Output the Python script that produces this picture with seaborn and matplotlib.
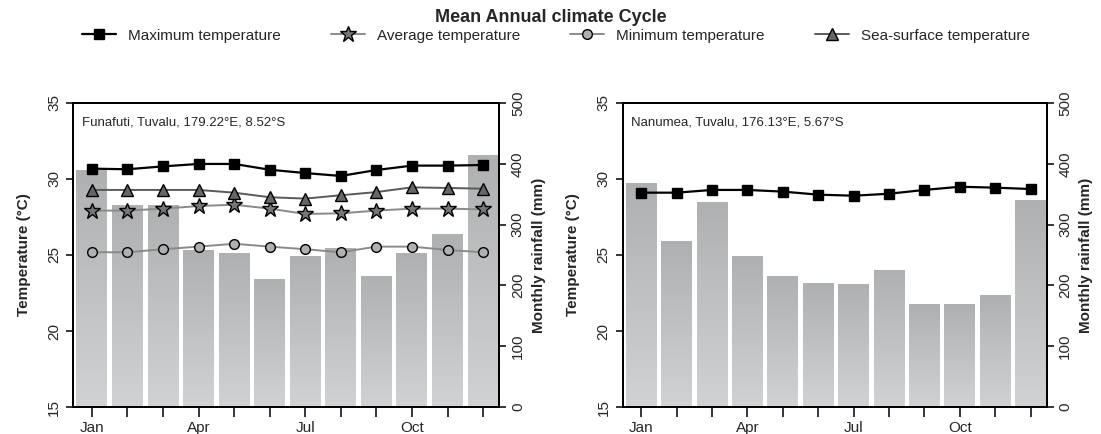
"""Mean annual climate cycle for two Tuvalu stations."""

import matplotlib
matplotlib.use("Agg")
import matplotlib.pyplot as plt
from matplotlib.colors import LinearSegmentedColormap
import numpy as np
import pandas as pd
import seaborn as sns

months = ["Jan", "Feb", "Mar", "Apr", "May", "Jun",
          "Jul", "Aug", "Sep", "Oct", "Nov", "Dec"]
month_labels = ["Jan", "", "", "Apr", "", "", "Jul", "", "", "Oct", "", ""]

# Funafuti
funafuti_rain = [389, 332, 332, 258, 252, 210, 248, 261, 215, 252, 283, 414]
funafuti_tmax = [30.68, 30.64, 30.83, 30.99, 30.99, 30.61, 30.39, 30.20, 30.59, 30.88, 30.88, 30.92]
funafuti_tavg = [27.92, 27.92, 28.05, 28.22, 28.31, 28.05, 27.70, 27.74, 27.92, 28.05, 28.05, 28.00]
funafuti_tmin = [25.18, 25.18, 25.38, 25.55, 25.74, 25.55, 25.38, 25.18, 25.55, 25.55, 25.33, 25.18]
funafuti_sst = [29.28, 29.28, 29.28, 29.28, 29.10, 28.80, 28.71, 28.93, 29.14, 29.45, 29.41, 29.36]

# Nanumea
nanumea_rain = [368, 273, 336, 248, 214, 203, 201, 225, 169, 169, 183, 340]
nanumea_tmax = [29.10, 29.10, 29.28, 29.28, 29.17, 28.97, 28.90, 29.03, 29.28, 29.49, 29.43, 29.34]

SERIES_STYLE = {
    "Maximum temperature": dict(color="black", marker="s", markersize=6.5,
                                markerfacecolor="black", lw=1.6, zorder=6),
    "Average temperature": dict(color="#8a8a8a", marker="*", markersize=12,
                                markerfacecolor="#777777", lw=1.4, zorder=4),
    "Minimum temperature": dict(color="#8a8a8a", marker="o", markersize=7,
                                markerfacecolor="#b0b0b0", lw=1.4, zorder=4),
    "Sea-surface temperature": dict(color="#5a5a5a", marker="^", markersize=8,
                                    markerfacecolor="#666666", lw=1.4, zorder=5),
}

sns.set_style("ticks")
plt.rcParams["font.family"] = ["Liberation Sans", "DejaVu Sans"]
plt.rcParams["axes.linewidth"] = 1.4

bar_cmap = LinearSegmentedColormap.from_list("bar", ["#d1d2d4", "#afb0b2"])


def shade_bars(ax):
    """Replace flat bar fills with a vertical grey gradient."""
    grad = np.linspace(0, 1, 256).reshape(-1, 1)
    for p in ax.patches:
        x0, w, h = p.get_x(), p.get_width(), p.get_height()
        p.set_facecolor("none")
        p.set_edgecolor("none")
        ax.imshow(grad, extent=[x0, x0 + w, 0, h], origin="lower",
                  cmap=bar_cmap, aspect="auto", zorder=1)


def draw_panel(fig, rect, station, rain, temps):
    ax = fig.add_axes(rect)
    axt = ax.twinx()

    # rainfall bars on the base axes, scale on the right
    df = pd.DataFrame({"month": months, "rain": rain})
    sns.barplot(data=df, x="month", y="rain", ax=ax, width=0.87,
                color="#bebfc1", saturation=1, errorbar=None)
    shade_bars(ax)
    ax.set_xlim(-0.53, 11.45)
    ax.set_ylim(0, 500)
    ax.set_yticks(range(0, 501, 100))
    ax.set_xlabel("")
    ax.set_xticks(range(12))
    ax.set_xticklabels(month_labels, fontsize=11)
    ax.tick_params(axis="x", length=7, width=1.3, pad=3)

    # temperature lines on the twin, scale on the left
    x = np.arange(12)
    for name, vals in temps.items():
        sns.lineplot(x=x, y=vals, ax=axt, markeredgecolor="black",
                     markeredgewidth=1.0, **SERIES_STYLE[name])
    axt.set_ylim(15, 35)
    axt.set_xlim(-0.53, 11.45)
    axt.set_yticks([15, 20, 25, 30, 35])

    ax.yaxis.tick_right()
    ax.yaxis.set_label_position("right")
    axt.yaxis.tick_left()
    axt.yaxis.set_label_position("left")
    ax.set_ylabel("Monthly rainfall (mm)", fontsize=11, fontweight="bold", labelpad=5)
    axt.set_ylabel("Temperature (°C)", fontsize=11, fontweight="bold", labelpad=12)
    for a in (ax, axt):
        a.tick_params(axis="y", labelrotation=90, labelsize=11, length=5, width=1.3)
        for lab in a.get_yticklabels():
            lab.set_va("center")
        for s in a.spines.values():
            s.set_visible(True)
            s.set_linewidth(1.4)
            s.set_color("black")
    axt.text(0.02, 0.955, station, transform=axt.transAxes,
             fontsize=9.5, va="top", ha="left")
    return ax, axt


fig = plt.figure(figsize=(11.01, 4.34), dpi=100)

draw_panel(fig, [0.0663, 0.0622, 0.3870, 0.7005],
           "Funafuti, Tuvalu, 179.22°E, 8.52°S", funafuti_rain,
           {"Sea-surface temperature": funafuti_sst,
            "Average temperature": funafuti_tavg,
            "Minimum temperature": funafuti_tmin,
            "Maximum temperature": funafuti_tmax})
draw_panel(fig, [0.5654, 0.0622, 0.3851, 0.7005],
           "Nanumea, Tuvalu, 176.13°E, 5.67°S", nanumea_rain,
           {"Maximum temperature": nanumea_tmax})

handles = [plt.Line2D([], [], markeredgecolor="black", markeredgewidth=1.0,
                      **{k: v for k, v in SERIES_STYLE[n].items() if k != "zorder"})
           for n in SERIES_STYLE]
fig.legend(handles, list(SERIES_STYLE), loc="center", ncol=4,
           bbox_to_anchor=(0.505, 0.918), frameon=False, fontsize=11,
           handlelength=2.2, columnspacing=3.3, handletextpad=0.8)

fig.suptitle("Mean Annual climate Cycle", fontsize=13, fontweight="bold", y=0.98)

fig.savefig("out.png", dpi=100)
